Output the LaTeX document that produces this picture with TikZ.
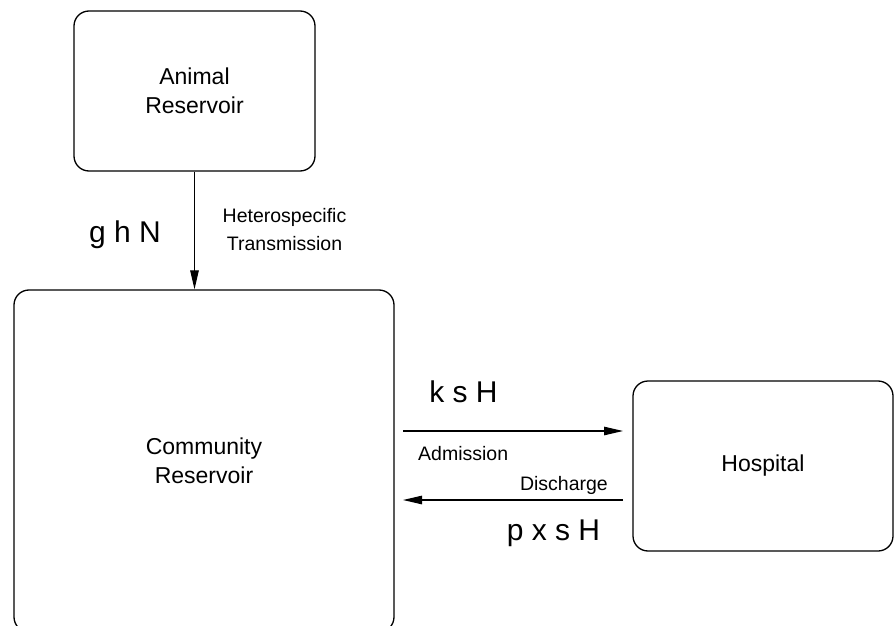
\documentclass[tikz,border=0pt]{standalone}
\usepackage{fontspec}
\setmainfont{Liberation Sans}
\usetikzlibrary{arrows.meta}
\begin{document}
\begin{tikzpicture}[x=1pt,y=-1pt,
  box/.style={draw=black, line width=1.3pt, rounded corners=15pt, align=center,
    font=\fontsize{23}{28.5}\selectfont, inner sep=0pt},
  arr/.style={line width=1.1pt, -{Triangle[length=19pt,width=8.5pt]}},
  big/.style={font=\fontsize{30}{34}\selectfont, anchor=base, inner sep=0pt},
  small/.style={font=\fontsize{19.5}{28}\selectfont, inner sep=0pt}]
\clip (0,0) rectangle (895,626);
\node[box, minimum width=241pt, minimum height=160pt] (animal) at (194.5,91) {Animal\\Reservoir};
\node[box, minimum width=380pt, minimum height=342pt] (comm) at (204,461) {Community\\Reservoir};
\node[box, minimum width=260pt, minimum height=170pt] (hosp) at (763,466) {Hospital};
\draw[arr] (animal.south) -- (animal.south |- comm.north);
\coordinate (adm1) at (403,431);
\coordinate (adm2) at (623,431);
\coordinate (dis1) at (623,500);
\coordinate (dis2) at (403,500);
\draw[arr] (adm1) -- (adm2);
\draw[arr] (dis1) -- (dis2);
\node[big] (ghn) at (125,242) {g h N};
\node[big] (ksh) at (463.5,402) {k s H};
\node[big] (pxsh) at (553.5,540) {p x s H};
\node[small, anchor=base west] (adm) at (418,460) {Admission};
\node[small, anchor=base east] (dis) at (608,490) {Discharge};
\node[small, anchor=base, align=center] (het) at (284.5,250) {Heterospecific\\Transmission};
\end{tikzpicture}
\end{document}
